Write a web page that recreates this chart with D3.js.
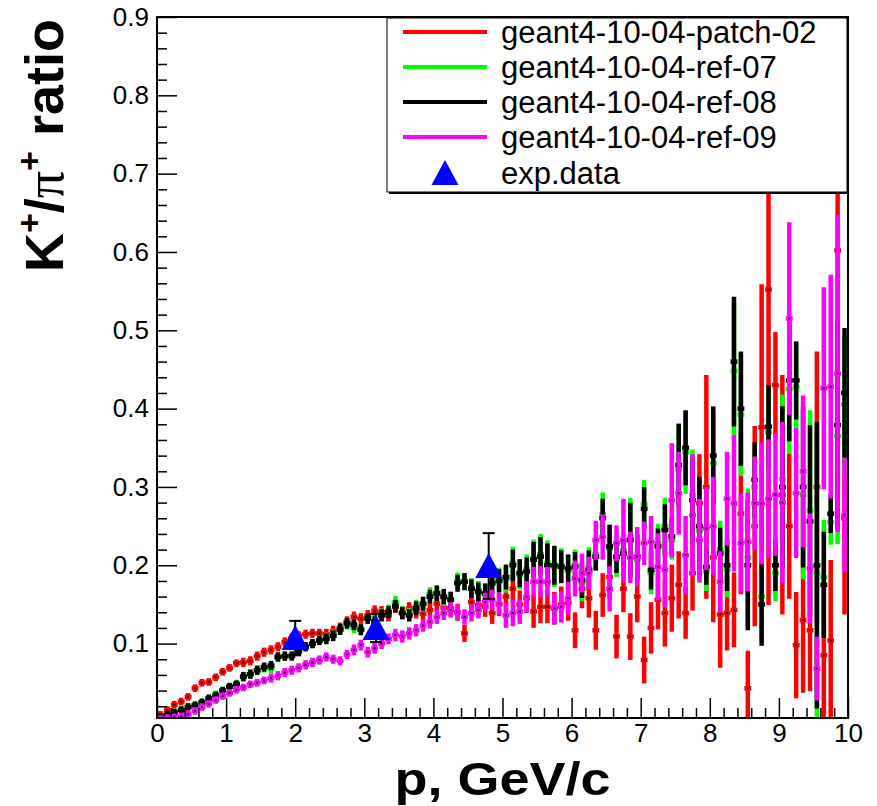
<!DOCTYPE html>
<html>
<head>
<meta charset="utf-8">
<script src="https://cdn.jsdelivr.net/npm/d3@7"></script>
<style>
  body { margin: 0; background: #fff; }
  svg { display: block; }
</style>
</head>
<body>
<svg id="chart"></svg>
<script>
// bins of 0.1 GeV/c from 0 to 10
const binWidth = 0.1;

const seriesNames = ['geant4-10-04-patch-02', 'geant4-10-04-ref-07', 'geant4-10-04-ref-08', 'geant4-10-04-ref-09'];
const seriesColors = ['#ff0000', '#00ff00', '#000000', '#ff00ff'];

const patch02 = [
  0.009, 0.015, 0.022, 0.026, 0.032, 0.043, 0.050, 0.051, 0.057, 0.064,
  0.069, 0.075, 0.076, 0.078, 0.084, 0.089, 0.092, 0.096, 0.102, 0.107,
  0.110, 0.112, 0.113, 0.113, 0.112, 0.116, 0.120, 0.128, 0.134, 0.132,
  0.136, 0.142, 0.140, 0.136, 0.147, 0.139, 0.145, 0.141, 0.138, 0.143,
  0.151, 0.146, 0.145, 0.140, 0.113, 0.153, 0.149, 0.147, 0.139, 0.150,
  0.160, 0.170, 0.150, 0.158, 0.141, 0.147, 0.147, 0.145, 0.150, 0.152,
  0.117, 0.170, 0.158, 0.117, 0.162, 0.185, 0.109, 0.170, 0.109, 0.160,
  0.079, 0.120, 0.156, 0.139, 0.158, 0.175, 0.139, 0.190, 0.279, 0.300,
  0.210, 0.137, 0.139, 0.143, 0.266, 0.043, 0.250, 0.376, 0.552, 0.430,
  0.290, 0.250, 0.098, 0.130, 0.117, 0.300, 0.085, 0.104, 0.602, 0.260
];
const patch02Err = [
  0.002, 0.002, 0.002, 0.002, 0.002, 0.002, 0.002, 0.002, 0.002, 0.002,
  0.002, 0.002, 0.003, 0.003, 0.003, 0.003, 0.003, 0.003, 0.003, 0.003,
  0.003, 0.003, 0.003, 0.003, 0.004, 0.004, 0.004, 0.004, 0.004, 0.004,
  0.004, 0.004, 0.005, 0.005, 0.005, 0.005, 0.005, 0.006, 0.006, 0.006,
  0.007, 0.007, 0.007, 0.008, 0.008, 0.010, 0.010, 0.010, 0.011, 0.012,
  0.015, 0.015, 0.015, 0.016, 0.018, 0.018, 0.018, 0.018, 0.020, 0.020,
  0.020, 0.022, 0.022, 0.022, 0.025, 0.025, 0.025, 0.027, 0.027, 0.030,
  0.027, 0.030, 0.035, 0.040, 0.040, 0.040, 0.030, 0.045, 0.060, 0.140,
  0.080, 0.065, 0.045, 0.045, 0.100, 0.045, 0.125, 0.180, 0.400, 0.065,
  0.150, 0.090, 0.065, 0.090, 0.075, 0.170, 0.090, 0.100, 0.350, 0.120
];

const ref07 = [
  0.006, 0.009, 0.012, 0.016, 0.019, 0.022, 0.025, 0.030, 0.035, 0.040,
  0.045, 0.049, 0.057, 0.061, 0.066, 0.069, 0.068, 0.082, 0.084, 0.085,
  0.090, 0.096, 0.100, 0.104, 0.107, 0.111, 0.118, 0.125, 0.120, 0.117,
  0.132, 0.129, 0.137, 0.142, 0.153, 0.140, 0.138, 0.147, 0.150, 0.163,
  0.165, 0.158, 0.157, 0.180, 0.179, 0.172, 0.168, 0.162, 0.178, 0.182,
  0.182, 0.203, 0.188, 0.195, 0.209, 0.214, 0.203, 0.198, 0.200, 0.193,
  0.200, 0.178, 0.197, 0.214, 0.265, 0.221, 0.208, 0.219, 0.236, 0.207,
  0.278, 0.190, 0.228, 0.250, 0.232, 0.322, 0.344, 0.290, 0.244, 0.192,
  0.330, 0.220, 0.194, 0.448, 0.392, 0.210, 0.300, 0.160, 0.370, 0.190,
  0.310, 0.425, 0.428, 0.290, 0.270, 0.190, 0.185, 0.255, 0.365, 0.405
];
const ref07Err = [
  0.002, 0.002, 0.002, 0.002, 0.002, 0.002, 0.002, 0.002, 0.002, 0.002,
  0.002, 0.002, 0.003, 0.003, 0.003, 0.003, 0.003, 0.003, 0.003, 0.003,
  0.003, 0.003, 0.003, 0.003, 0.004, 0.004, 0.004, 0.004, 0.004, 0.004,
  0.004, 0.004, 0.005, 0.005, 0.005, 0.005, 0.005, 0.006, 0.006, 0.006,
  0.007, 0.007, 0.007, 0.008, 0.008, 0.009, 0.009, 0.010, 0.011, 0.012,
  0.014, 0.018, 0.016, 0.016, 0.021, 0.023, 0.026, 0.023, 0.019, 0.017,
  0.017, 0.021, 0.023, 0.017, 0.025, 0.027, 0.020, 0.018, 0.047, 0.028,
  0.028, 0.024, 0.022, 0.033, 0.022, 0.054, 0.050, 0.055, 0.064, 0.022,
  0.064, 0.034, 0.032, 0.085, 0.075, 0.085, 0.050, 0.054, 0.055, 0.033,
  0.105, 0.080, 0.052, 0.105, 0.125, 0.185, 0.070, 0.026, 0.135, 0.085
];

const ref08 = [
  0.006, 0.009, 0.012, 0.015, 0.019, 0.021, 0.025, 0.030, 0.034, 0.040,
  0.045, 0.048, 0.058, 0.061, 0.066, 0.070, 0.072, 0.083, 0.084, 0.084,
  0.090, 0.096, 0.100, 0.104, 0.106, 0.110, 0.118, 0.126, 0.124, 0.118,
  0.132, 0.128, 0.136, 0.140, 0.148, 0.139, 0.136, 0.145, 0.151, 0.160,
  0.164, 0.160, 0.156, 0.177, 0.179, 0.170, 0.166, 0.164, 0.177, 0.180,
  0.185, 0.200, 0.190, 0.192, 0.207, 0.211, 0.200, 0.200, 0.198, 0.196,
  0.198, 0.181, 0.194, 0.211, 0.260, 0.224, 0.211, 0.215, 0.232, 0.211,
  0.272, 0.194, 0.224, 0.245, 0.237, 0.328, 0.350, 0.283, 0.250, 0.198,
  0.340, 0.215, 0.200, 0.460, 0.400, 0.200, 0.309, 0.150, 0.377, 0.200,
  0.300, 0.436, 0.436, 0.300, 0.256, 0.200, 0.175, 0.266, 0.379, 0.420
];
const ref08Err = [
  0.002, 0.002, 0.002, 0.002, 0.002, 0.002, 0.002, 0.002, 0.002, 0.002,
  0.002, 0.002, 0.003, 0.003, 0.003, 0.003, 0.003, 0.003, 0.003, 0.003,
  0.003, 0.003, 0.003, 0.003, 0.004, 0.004, 0.004, 0.004, 0.004, 0.004,
  0.004, 0.004, 0.005, 0.005, 0.005, 0.005, 0.005, 0.006, 0.006, 0.006,
  0.007, 0.007, 0.007, 0.008, 0.008, 0.009, 0.009, 0.010, 0.011, 0.012,
  0.013, 0.017, 0.015, 0.015, 0.020, 0.022, 0.025, 0.022, 0.018, 0.015,
  0.016, 0.020, 0.022, 0.015, 0.022, 0.025, 0.018, 0.016, 0.045, 0.026,
  0.025, 0.022, 0.020, 0.030, 0.020, 0.050, 0.045, 0.050, 0.060, 0.020,
  0.060, 0.030, 0.030, 0.080, 0.070, 0.080, 0.045, 0.050, 0.050, 0.030,
  0.100, 0.075, 0.047, 0.100, 0.120, 0.180, 0.065, 0.022, 0.130, 0.080
];

const ref09 = [
  0.004, 0.005, 0.006, 0.007, 0.010, 0.014, 0.019, 0.023, 0.028, 0.033,
  0.037, 0.041, 0.044, 0.048, 0.050, 0.053, 0.056, 0.059, 0.063, 0.066,
  0.069, 0.073, 0.076, 0.079, 0.083, 0.080, 0.078, 0.086, 0.092, 0.098,
  0.089, 0.094, 0.100, 0.106, 0.111, 0.109, 0.113, 0.117, 0.123, 0.128,
  0.134, 0.139, 0.143, 0.140, 0.134, 0.139, 0.143, 0.153, 0.156, 0.151,
  0.136, 0.139, 0.141, 0.160, 0.179, 0.179, 0.179, 0.145, 0.147, 0.158,
  0.183, 0.190, 0.190, 0.232, 0.236, 0.170, 0.228, 0.232, 0.210, 0.211,
  0.228, 0.230, 0.198, 0.194, 0.283, 0.292, 0.213, 0.264, 0.232, 0.247,
  0.250, 0.179, 0.285, 0.279, 0.228, 0.230, 0.279, 0.279, 0.285, 0.290,
  0.280, 0.515, 0.292, 0.320, 0.196, 0.068, 0.426, 0.428, 0.445, 0.264
];
const ref09Err = [
  0.002, 0.002, 0.002, 0.002, 0.002, 0.002, 0.002, 0.002, 0.002, 0.002,
  0.002, 0.002, 0.002, 0.002, 0.002, 0.002, 0.003, 0.003, 0.003, 0.003,
  0.003, 0.003, 0.003, 0.003, 0.003, 0.003, 0.003, 0.003, 0.004, 0.004,
  0.004, 0.004, 0.004, 0.004, 0.005, 0.005, 0.005, 0.005, 0.005, 0.006,
  0.006, 0.006, 0.007, 0.007, 0.007, 0.008, 0.008, 0.009, 0.010, 0.011,
  0.013, 0.014, 0.013, 0.017, 0.016, 0.017, 0.016, 0.017, 0.017, 0.018,
  0.020, 0.022, 0.018, 0.022, 0.026, 0.026, 0.020, 0.050, 0.030, 0.035,
  0.025, 0.030, 0.040, 0.045, 0.070, 0.050, 0.047, 0.075, 0.050, 0.050,
  0.060, 0.036, 0.057, 0.084, 0.060, 0.060, 0.057, 0.075, 0.073, 0.075,
  0.100, 0.120, 0.080, 0.094, 0.067, 0.038, 0.126, 0.140, 0.200, 0.070
];

const seriesValues = [patch02, ref07, ref08, ref09];
const seriesErrors = [patch02Err, ref07Err, ref08Err, ref09Err];

// experimental points
const expP = [2.0, 3.17, 4.8];
const expRatio = [0.107, 0.120, 0.199];
const expErr = [0.022, 0.018, 0.042];

const xTickValues = [0, 1, 2, 3, 4, 5, 6, 7, 8, 9, 10];
const yTickValues = [0.1, 0.2, 0.3, 0.4, 0.5, 0.6, 0.7, 0.8, 0.9];

const width = 877, height = 806;
const frame = { left: 157, right: 848, top: 17, bottom: 718 };

const svg = d3.select('#chart')
  .attr('width', width)
  .attr('height', height)
  .style('font-family', '"Liberation Sans", Arial, Helvetica, sans-serif');

svg.append('rect').attr('width', width).attr('height', height).attr('fill', '#fff');

const x = d3.scaleLinear().domain([0, 10]).range([frame.left, frame.right]);
const y = d3.scaleLinear().domain([0.005, 0.9]).range([frame.bottom, frame.top]);

svg.append('clipPath').attr('id', 'frameClip')
  .append('rect')
  .attr('x', frame.left).attr('y', frame.top)
  .attr('width', frame.right - frame.left)
  .attr('height', frame.bottom - frame.top);

const plot = svg.append('g').attr('clip-path', 'url(#frameClip)');

// histograms with error bars, drawn in legend order
seriesValues.forEach((vals, s) => {
  const errs = seriesErrors[s];
  const bins = vals.map((v, i) => ({ c: (i + 0.5) * binWidth, v: v, e: errs[i] }));
  const g = plot.append('g');

  g.selectAll('line.ev').data(bins).join('line')
    .attr('class', 'ev')
    .attr('x1', d => x(d.c)).attr('x2', d => x(d.c))
    .attr('y1', d => y(d.v - d.e)).attr('y2', d => y(d.v + d.e))
    .attr('stroke', seriesColors[s])
    .attr('stroke-width', 4.5)
    .attr('stroke-linecap', 'square');

  g.selectAll('line.eh').data(bins).join('line')
    .attr('class', 'eh')
    .attr('x1', d => x(d.c - binWidth / 2)).attr('x2', d => x(d.c + binWidth / 2))
    .attr('y1', d => y(d.v)).attr('y2', d => y(d.v))
    .attr('stroke', seriesColors[s])
    .attr('stroke-width', 4.5);

  g.selectAll('rect.dot').data(bins).join('rect')
    .attr('class', 'dot')
    .attr('x', d => x(d.c) - 1).attr('y', d => y(d.v) - 1)
    .attr('width', 2).attr('height', 2)
    .attr('fill', '#000');
});

// experimental data
const expPts = expP.map((p, i) => ({ p: p, v: expRatio[i], e: expErr[i] }));
const expG = svg.append('g');
expG.selectAll('line.bar').data(expPts).join('line')
  .attr('x1', d => x(d.p)).attr('x2', d => x(d.p))
  .attr('y1', d => y(d.v - d.e)).attr('y2', d => y(d.v + d.e))
  .attr('stroke', '#000').attr('stroke-width', 2);
[-1, 1].forEach(sign => {
  expG.selectAll('line.cap' + sign).data(expPts).join('line')
    .attr('x1', d => x(d.p) - 6).attr('x2', d => x(d.p) + 6)
    .attr('y1', d => y(d.v + sign * d.e)).attr('y2', d => y(d.v + sign * d.e))
    .attr('stroke', '#000').attr('stroke-width', 2);
});
const tri = 'M0,-13L13.5,12L-13.5,12Z';
expG.selectAll('path').data(expPts).join('path')
  .attr('d', tri)
  .attr('transform', d => `translate(${x(d.p)},${y(d.v)})`)
  .attr('fill', '#0000ff');

// axes, ticks pointing inside the frame
const xMinor = d3.range(0, 10.001, 0.2).filter(v => Math.abs(v - Math.round(v)) > 1e-6);
const yMinor = d3.range(0.02, 0.9001, 0.02).filter(v => Math.abs(v * 10 - Math.round(v * 10)) > 1e-6);

svg.append('g')
  .attr('transform', `translate(0,${frame.bottom})`)
  .call(d3.axisBottom(x).tickValues(xMinor).tickSize(-10).tickFormat(''))
  .call(g => g.select('.domain').remove())
  .selectAll('line').attr('stroke-width', 1.5);

const xAxis = svg.append('g')
  .attr('transform', `translate(0,${frame.bottom})`)
  .call(d3.axisBottom(x).tickValues(xTickValues).tickSize(-20).tickPadding(6).tickFormat(d3.format('d')));
xAxis.select('.domain').remove();
xAxis.selectAll('line').attr('stroke-width', 1.5);
xAxis.selectAll('text').attr('font-size', 26).attr('fill', '#000')
  .attr('font-family', '"Liberation Sans", Arial, sans-serif');

svg.append('g')
  .attr('transform', `translate(${frame.left},0)`)
  .call(d3.axisLeft(y).tickValues(yMinor).tickSize(-10).tickFormat(''))
  .call(g => g.select('.domain').remove())
  .selectAll('line').attr('stroke-width', 1.5);

const yAxis = svg.append('g')
  .attr('transform', `translate(${frame.left},0)`)
  .call(d3.axisLeft(y).tickValues(yTickValues).tickSize(-20).tickPadding(8).tickFormat(d3.format('.1f')));
yAxis.select('.domain').remove();
yAxis.selectAll('line').attr('stroke-width', 1.5);
yAxis.selectAll('text').attr('font-size', 26).attr('fill', '#000')
  .attr('font-family', '"Liberation Sans", Arial, sans-serif');

// frame
svg.append('rect')
  .attr('x', frame.left).attr('y', frame.top)
  .attr('width', frame.right - frame.left)
  .attr('height', frame.bottom - frame.top)
  .attr('fill', 'none').attr('stroke', '#000').attr('stroke-width', 2);

// axis titles
svg.append('text')
  .attr('x', (frame.left + frame.right) / 2)
  .attr('y', 795)
  .attr('text-anchor', 'middle')
  .attr('font-size', 47)
  .attr('font-weight', 'bold')
  .attr('textLength', 216)
  .attr('lengthAdjust', 'spacingAndGlyphs')
  .text('p, GeV/c');

const yTitle = svg.append('text')
  .attr('transform', `translate(63,${frame.top + 2}) rotate(-90)`)
  .attr('text-anchor', 'end')
  .attr('font-size', 54)
  .attr('font-weight', 'bold');
yTitle.append('tspan').text('K');
yTitle.append('tspan').attr('font-size', 34).attr('dy', -22).text('+');
yTitle.append('tspan').attr('dy', 22).text('/');
yTitle.append('tspan').attr('font-family', '"Liberation Serif", "DejaVu Serif", serif').attr('font-weight', 'normal').text('π');
yTitle.append('tspan').attr('font-size', 34).attr('dy', -22).text('+');
yTitle.append('tspan').attr('dy', 22).text(' ratio');

// legend
const leg = { x0: 387, x1: 847, y0: 18, y1: 192 };
svg.append('rect')
  .attr('x', leg.x0 + 2).attr('y', leg.y0 + 2)
  .attr('width', leg.x1 - leg.x0).attr('height', leg.y1 - leg.y0)
  .attr('fill', '#000');
svg.append('rect')
  .attr('x', leg.x0).attr('y', leg.y0)
  .attr('width', leg.x1 - leg.x0).attr('height', leg.y1 - leg.y0)
  .attr('fill', '#fff').attr('stroke', '#000').attr('stroke-width', 1);

const rowY = [32, 67, 102, 137, 173];
seriesNames.forEach((name, i) => {
  svg.append('line')
    .attr('x1', 403).attr('x2', 487)
    .attr('y1', rowY[i]).attr('y2', rowY[i])
    .attr('stroke', seriesColors[i]).attr('stroke-width', 4);
  svg.append('text')
    .attr('x', 501).attr('y', rowY[i])
    .attr('dy', '0.35em')
    .attr('font-size', 31)
    .text(name);
});
svg.append('path')
  .attr('d', tri)
  .attr('transform', `translate(445,${rowY[4]})`)
  .attr('fill', '#0000ff');
svg.append('text')
  .attr('x', 501).attr('y', rowY[4])
  .attr('dy', '0.35em')
  .attr('font-size', 31)
  .text('exp.data');
</script>
</body>
</html>
